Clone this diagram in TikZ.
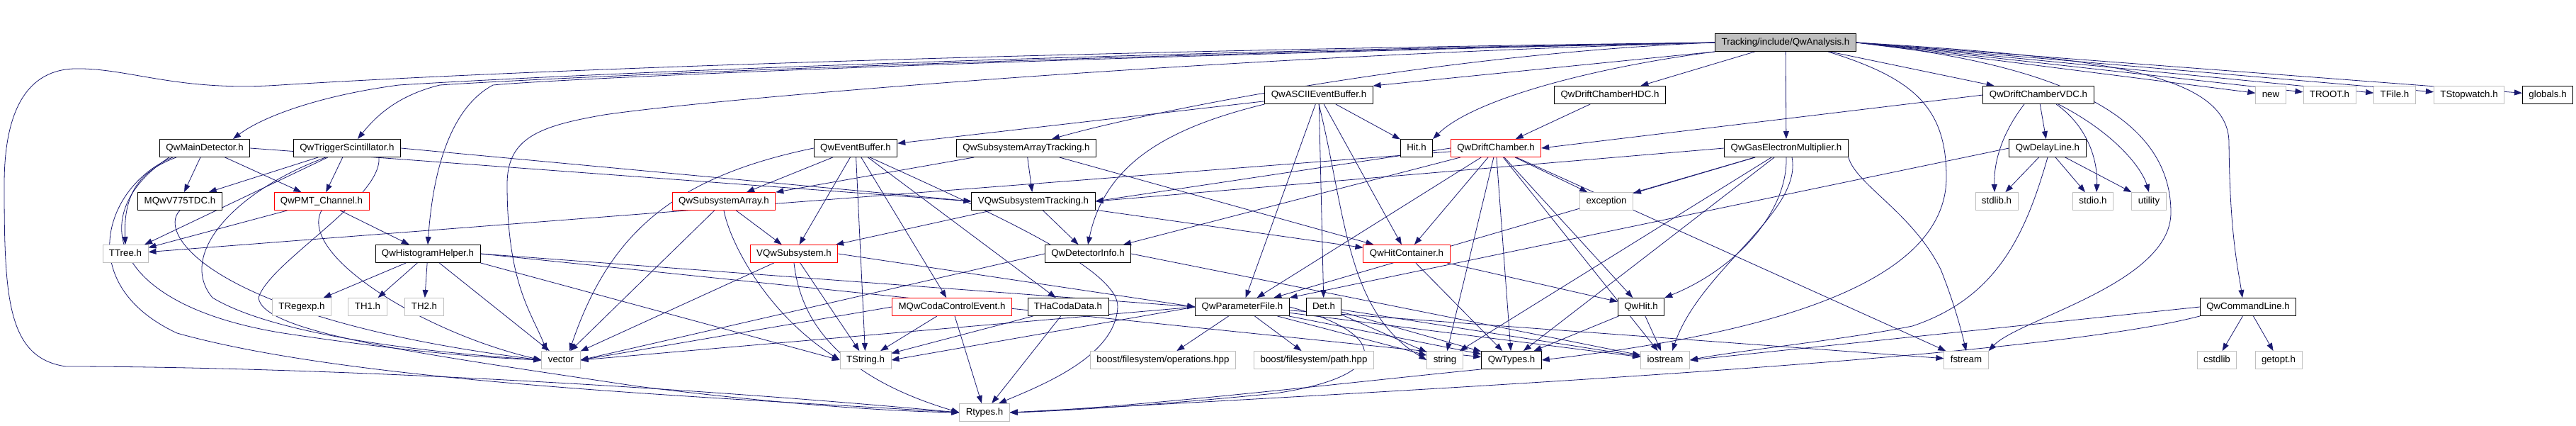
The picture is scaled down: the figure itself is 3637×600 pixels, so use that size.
\documentclass[tikz,border=0pt]{standalone}
\usepackage{fontspec}
\setmainfont{Liberation Sans}
\usetikzlibrary{arrows.meta}
\definecolor{edgeblue}{HTML}{191970}
\definecolor{sysgray}{HTML}{BFBFBF}
\pgfdeclarelayer{edges}
\pgfsetlayers{edges,main}

\tikzset{
  hdr/.style={draw=black, line width=0.9pt, fill=white, minimum height=25pt,
    inner xsep=9pt, inner ysep=6pt, text height=10pt, text depth=3pt,
    font=\fontsize{13.3}{15}\selectfont},
  redhdr/.style={hdr, draw=red},
  syshdr/.style={hdr, draw=sysgray},
  roothdr/.style={hdr, fill=sysgray},
  dep/.style={draw=edgeblue, line width=0.8pt, -{Triangle[length=11pt,width=8pt]}}
}

\begin{document}
\begin{tikzpicture}[x=1pt, y=-1pt]
  \useasboundingbox (0,0) rectangle (3637,600);

  %root:
  \node[roothdr] (root) at (2521,60) {Tracking/include/QwAnalysis.h};

  %first row:
  \node[hdr] (ascii) at (1862,134) {QwASCIIEventBuffer.h};
  \node[hdr] (hdc) at (2273,134) {QwDriftChamberHDC.h};
  \node[hdr] (vdc) at (2878,134) {QwDriftChamberVDC.h};
  \node[syshdr] (new) at (3206,134) {new};
  \node[syshdr] (troot) at (3289,134) {TROOT.h};
  \node[syshdr] (tfile) at (3381,134) {TFile.h};
  \node[syshdr] (tstopw) at (3486,134) {TStopwatch.h};
  \node[hdr] (globals) at (3597,134) {globals.h};

  %second row:
  \node[hdr] (maindet) at (289,209) {QwMainDetector.h};
  \node[hdr] (trigscint) at (490,209) {QwTriggerScintillator.h};
  \node[hdr] (evbuf) at (1208,209) {QwEventBuffer.h};
  \node[hdr] (sysarrtrk) at (1449,209) {QwSubsystemArrayTracking.h};
  \node[hdr] (hith) at (2000,209) {Hit.h};
  \node[redhdr] (drift) at (2112,209) {QwDriftChamber.h};
  \node[hdr] (gem) at (2522,209) {QwGasElectronMultiplier.h};
  \node[hdr] (delay) at (2891,209) {QwDelayLine.h};

  %third row:
  \node[hdr] (v775) at (254,284) {MQwV775TDC.h};
  \node[redhdr] (pmt) at (454,284) {QwPMT\_Channel.h};
  \node[redhdr] (sysarr) at (1022,284) {QwSubsystemArray.h};
  \node[hdr] (vsystrk) at (1459,284) {VQwSubsystemTracking.h};
  \node[syshdr] (exception) at (2268,284) {exception};
  \node[syshdr] (stdlib) at (2819,284) {stdlib.h};
  \node[syshdr] (stdio) at (2955,284) {stdio.h};
  \node[syshdr] (utility) at (3034,284) {utility};

  %fourth row:
  \node[syshdr] (ttree) at (177,358) {TTree.h};
  \node[hdr] (histo) at (604,358) {QwHistogramHelper.h};
  \node[redhdr] (vsys) at (1121,358) {VQwSubsystem.h};
  \node[hdr] (detinfo) at (1536,358) {QwDetectorInfo.h};
  \node[redhdr] (hitcont) at (1986,358) {QwHitContainer.h};

  %fifth row:
  \node[syshdr] (tregexp) at (426,433) {TRegexp.h};
  \node[syshdr] (thone) at (519,433) {TH1.h};
  \node[syshdr] (thtwo) at (599,433) {TH2.h};
  \node[redhdr] (codactl) at (1344,433) {MQwCodaControlEvent.h};
  \node[hdr] (hacoda) at (1508,433) {THaCodaData.h};
  \node[hdr] (param) at (1754,433) {QwParameterFile.h};
  \node[hdr] (det) at (1869,433) {Det.h};
  \node[hdr] (qwhit) at (2317,433) {QwHit.h};
  \node[hdr] (cmdline) at (3174,433) {QwCommandLine.h};

  %sixth row:
  \node[syshdr] (vector) at (792,508) {vector};
  \node[syshdr] (tstring) at (1222,508) {TString.h};
  \node[syshdr] (bfsops) at (1642,508) {boost/filesystem/operations.hpp};
  \node[syshdr] (bfspath) at (1855,508) {boost/filesystem/path.hpp};
  \node[syshdr] (string) at (2040,508) {string};
  \node[hdr] (qwtypes) at (2134,508) {QwTypes.h};
  \node[syshdr] (iostream) at (2351,508) {iostream};
  \node[syshdr] (fstream) at (2776,508) {fstream};
  \node[syshdr] (cstdlib) at (3130,508) {cstdlib};
  \node[syshdr] (getopt) at (3217,508) {getopt.h};

  %last row:
  \node[syshdr] (rtypes) at (1390,582) {Rtypes.h};

  \begin{pgfonlayer}{edges}
  %from the root:
  \draw[dep] (root.west) .. controls (1600,70) and (800,95) .. (395,120)
    .. controls (250,130) and (180,95) .. (104,97)
    .. controls (30,100) and (6,170) .. (6,260)
    .. controls (6,420) and (10,505) .. (93,517)
    .. controls (400,517) and (900,540) .. (rtypes.west);
  \draw[dep] (root.west) .. controls (1500,75) and (800,105) .. (563,120)
    .. controls (450,135) and (370,165) .. ([xshift=40pt]maindet.north);
  \draw[dep] (root.west) .. controls (1500,78) and (800,108) .. (621,120)
    .. controls (560,135) and (530,165) .. ([xshift=15pt]trigscint.north);
  \draw[dep] (root.west) .. controls (1500,80) and (800,110) .. (696,120)
    .. controls (640,150) and (612,230) .. (histo.north);
  \draw[dep] (root.west) .. controls (1700,80) and (1000,140) .. (853,162)
    .. controls (760,178) and (716,195) .. (716,260)
    .. controls (716,400) and (750,440) .. ([xshift=-20pt]vector.north);
  \draw[dep] (root.west) .. controls (2050,75) and (1650,150) .. ([xshift=36pt]sysarrtrk.north);
  \draw[dep] (root.south west) -- (ascii.north east);
  \draw[dep] (root.south west) .. controls (2250,95) and (2080,140) .. (hith.north east);
  \draw[dep] (root) -- (hdc);
  \draw[dep] (root) -- (gem);
  \draw[dep] (root) -- (vdc);
  \draw[dep] (root.east) -- (new);
  \draw[dep] (root.east) -- (troot);
  \draw[dep] (root.east) -- (tfile);
  \draw[dep] (root.east) -- (tstopw);
  \draw[dep] (root.east) -- (globals);
  \draw[dep] (root.east) .. controls (2950,80) and (3145,100) .. (3147,200)
    .. controls (3148,330) and (3160,380) .. ([xshift=-8pt]cmdline.north);
  \draw[dep] (root.east) .. controls (2900,90) and (3065,160) .. (3065,300)
    .. controls (3065,400) and (2850,450) .. (fstream.north east);
  \draw[dep] ([xshift=60pt]root.south) .. controls (2700,110) and (2748,150) .. (2748,250)
    .. controls (2748,400) and (2500,470) .. (qwtypes.east);

  %QwASCIIEventBuffer:
  \draw[dep] (ascii) -- (evbuf);
  \draw[dep] (ascii.south west) .. controls (1650,180) and (1560,230) .. (detinfo.north);
  \draw[dep] (ascii) -- (hith);
  \draw[dep] (ascii) -- (param);
  \draw[dep] (ascii) -- (det);
  \draw[dep] (ascii.south) .. controls (1900,300) and (1900,440) .. (string.west);
  \draw[dep] (ascii) -- (hitcont);

  %drift chambers:
  \draw[dep] (hdc) -- (drift);
  \draw[dep] (vdc.west) -- (drift.east);
  \draw[dep] (vdc) -- (delay);
  \draw[dep] ([xshift=-20pt]vdc.south) .. controls (2825,190) and (2815,230) .. ([xshift=-3pt]stdlib.north);
  \draw[dep] ([xshift=25pt]vdc.south) .. controls (2950,180) and (2962,230) .. ([xshift=5pt]stdio.north);
  \draw[dep] ([xshift=28pt]vdc.south) .. controls (2990,190) and (3025,240) .. (utility.north);
  \draw[dep] (delay) -- (stdlib);
  \draw[dep] (delay) -- (stdio);
  \draw[dep] (delay) -- (utility);
  \draw[dep] (delay.west) -- (param.north east);
  \draw[dep] (delay.south) .. controls (2860,330) and (2820,420) .. (2700,460)
    .. controls (2600,480) and (2450,495) .. (iostream.east);

  \draw[dep] (drift.west) -- (vsystrk.east);
  \draw[dep] (drift) -- (ttree);
  \draw[dep] (drift) -- (detinfo);
  \draw[dep] (drift) -- (hitcont);
  \draw[dep] (drift) -- (exception);
  \draw[dep] (drift) -- (qwhit);
  \draw[dep] (drift) -- (qwtypes);
  \draw[dep] (drift) -- (string);
  \draw[dep] (drift) -- (fstream);
  \draw[dep] (drift) -- (param);
  \draw[dep] (drift) -- (iostream);

  %QwGasElectronMultiplier:
  \draw[dep] (gem) -- (exception);
  \draw[dep] (gem.west) -- (vsystrk.east);
  \draw[dep] (gem) -- (param);
  \draw[dep] (gem) -- (string);
  \draw[dep] (gem) -- (qwtypes);
  \draw[dep] (gem.south) .. controls (2524,300) and (2450,380) .. (qwhit.north east);
  \draw[dep] ([xshift=8pt]gem.south) .. controls (2545,300) and (2400,380) .. ([xshift=10pt]iostream.north);
  \draw[dep] (gem.south east) .. controls (2620,260) and (2700,300) .. (2740,380)
    .. controls (2760,430) and (2770,470) .. (fstream.north);

  %detectors:
  \draw[dep] (maindet) -- (v775);
  \draw[dep] (maindet) -- (pmt);
  \draw[dep] ([xshift=-40pt]maindet.south) .. controls (200,240) and (174,270) .. (ttree.north);
  \draw[dep] (maindet.east) -- (vsystrk.west);
  \draw[dep] ([xshift=-45pt]maindet.south) .. controls (150,260) and (100,400) .. (250,470)
    .. controls (500,540) and (1000,560) .. (rtypes.west);
  \draw[dep] ([xshift=-50pt]maindet.south) .. controls (120,300) and (150,430) .. (400,470)
    .. controls (600,500) and (700,505) .. (vector.west);

  \draw[dep] (trigscint) -- (v775);
  \draw[dep] (trigscint) -- (pmt);
  \draw[dep] (trigscint) -- (ttree);
  \draw[dep] (trigscint.east) -- (vsystrk.west);
  \draw[dep] ([xshift=-30pt]trigscint.south) .. controls (330,270) and (250,360) .. (300,420)
    .. controls (400,480) and (650,500) .. (vector.west);
  \draw[dep] ([xshift=45pt]trigscint.south) .. controls (540,280) and (380,370) .. (365,420)
    .. controls (370,470) and (600,500) .. (900,545)
    .. controls (1100,570) and (1250,580) .. (rtypes.west);

  \draw[dep] (v775.south) .. controls (220,330) and (300,450) .. (vector.west);
  \draw[dep] (pmt) -- (ttree);
  \draw[dep] (pmt) -- (histo);
  \draw[dep] (pmt.south) .. controls (420,360) and (600,470) .. (vector.west);

  %histograms:
  \draw[dep] (histo) -- (tregexp);
  \draw[dep] (histo) -- (thone);
  \draw[dep] (histo) -- (thtwo);
  \draw[dep] (histo) -- (vector);
  \draw[dep] (histo.south east) -- (tstring.west);
  \draw[dep] (histo.east) -- (param.west);
  \draw[dep] (histo.east) -- (qwtypes);

  %event buffer and subsystems:
  \draw[dep] (evbuf) -- (sysarr);
  \draw[dep] (evbuf) -- (vsys);
  \draw[dep] (evbuf) -- (tstring);
  \draw[dep] (evbuf) -- (codactl);
  \draw[dep] (evbuf) -- (hacoda);
  \draw[dep] ([xshift=20pt]evbuf.south) .. controls (1400,300) and (1580,380) .. (1578,433)
    .. controls (1575,500) and (1480,540) .. ([xshift=20pt]rtypes.north);
  \draw[dep] (evbuf.west) .. controls (950,250) and (860,330) .. ([xshift=12pt]vector.north);

  \draw[dep] (sysarrtrk) -- (sysarr);
  \draw[dep] (sysarrtrk) -- (vsystrk);
  \draw[dep] (sysarrtrk) -- (hitcont);

  \draw[dep] (sysarr) -- (vsys);
  \draw[dep] (sysarr.south) .. controls (1030,340) and (1080,440) .. (tstring.west);
  \draw[dep] (sysarr) -- (vector);

  \draw[dep] (vsystrk) -- (detinfo);
  \draw[dep] (vsystrk) -- (vsys);
  \draw[dep] (vsystrk) -- (hitcont);

  \draw[dep] (vsys) -- (tstring);
  \draw[dep] (vsys.south) .. controls (1130,450) and (1180,530) .. (rtypes.west);
  \draw[dep] (vsys) -- (vector);
  \draw[dep] (vsys.east) -- (param.west);

  \draw[dep] (detinfo.west) -- (vector.east);
  \draw[dep] (detinfo.east) -- (iostream);

  \draw[dep] (hitcont) -- (qwhit);
  \draw[dep] (hitcont) -- (qwtypes);

  \draw[dep] (codactl) -- (tstring);
  \draw[dep] (codactl) -- (rtypes);
  \draw[dep] (codactl.west) -- (vector.east);
  \draw[dep] (hacoda) -- (tstring);
  \draw[dep] (hacoda) -- (rtypes);

  %parameter file and the rest:
  \draw[dep] (param) -- (bfsops);
  \draw[dep] (param) -- (bfspath);
  \draw[dep] (param) -- (string);
  \draw[dep] (param) -- (qwtypes);
  \draw[dep] (param) -- (iostream);
  \draw[dep] (param) -- (fstream);
  \draw[dep] (param.west) -- (tstring.east);
  \draw[dep] (param.west) -- (vector.east);
  \draw[dep] (param.east) .. controls (1960,470) and (1970,530) .. (1800,555)
    .. controls (1650,570) and (1500,580) .. (rtypes.east);

  \draw[dep] (det) -- (string);
  \draw[dep] (det) -- (qwtypes);
  \draw[dep] (det) -- (iostream);

  \draw[dep] (qwhit) -- (qwtypes);
  \draw[dep] (qwhit) -- (iostream);

  \draw[dep] (cmdline) -- (cstdlib);
  \draw[dep] (cmdline) -- (getopt);
  \draw[dep] (cmdline.west) -- (iostream.east);
  \draw[dep] (cmdline.south west) .. controls (2900,500) and (2200,540) .. (rtypes.east);

  \draw[dep] (qwtypes.south west) .. controls (1900,540) and (1600,575) .. (rtypes.east);
  \end{pgfonlayer}
\end{tikzpicture}
\end{document}
